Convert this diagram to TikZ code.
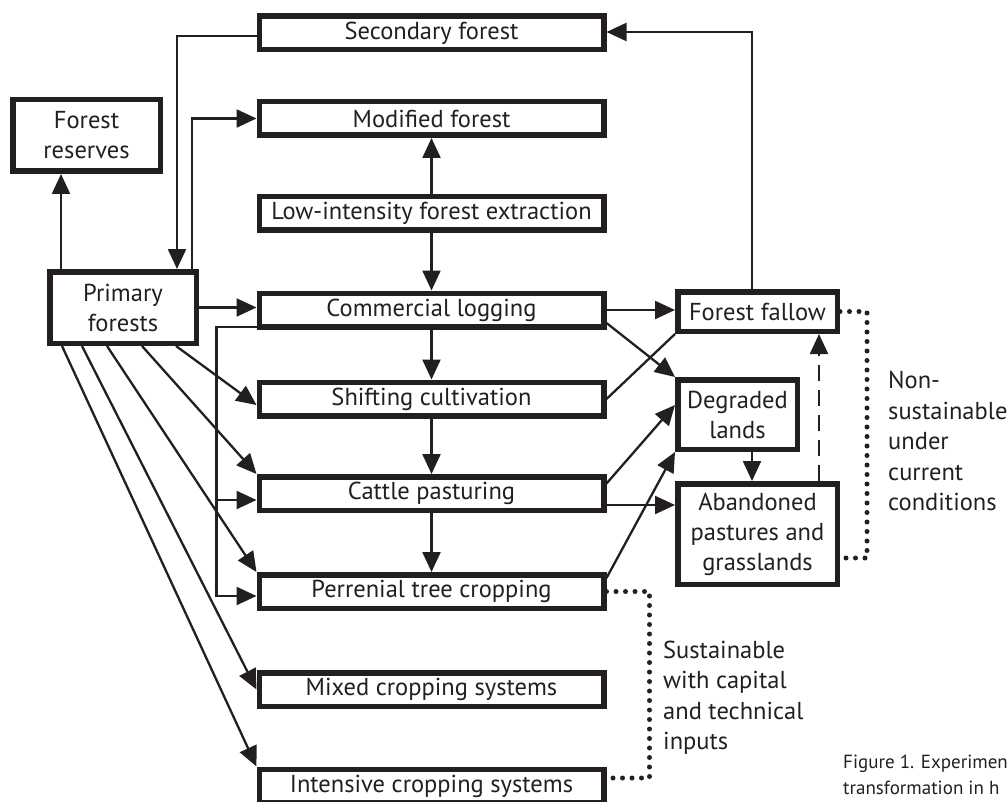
\documentclass[tikz,border=0pt]{standalone}
\usepackage{fontspec}
\setmainfont{PT Sans}
\usetikzlibrary{arrows.meta}
\definecolor{ink}{HTML}{231F20}
\begin{document}
\begin{tikzpicture}[x=1pt,y=-1pt,
  box/.style={draw=ink, line width=5.5pt, inner sep=0pt, align=center,
    font=\fontsize{24.5}{30}\selectfont, text=ink, fill=white},
  cbox/.style={box, minimum width=344.5pt, minimum height=33.5pt},
  link/.style={draw=ink, line width=2.3pt},
  arr/.style={link, -{Triangle[length=20pt,width=18pt]}},
  dotline/.style={draw=ink, line width=5pt, line cap=round, dash pattern=on 0pt off 9.5pt},
  note/.style={align=left, anchor=west, inner sep=0pt,
    font=\fontsize{24.5}{30.5}\selectfont, text=ink},
  caption/.style={align=left, anchor=west, inner sep=0pt,
    font=\fontsize{19}{26}\selectfont, text=ink}]
\useasboundingbox (0,0) rectangle (1008,802);

% central column of land uses
\node[cbox] (SF) at (431.5,33)    {Secondary forest};
\node[cbox] (MF) at (431.5,118.5) {Modified forest};
\node[cbox] (LI) at (431.5,213.5) {Low-intensity forest extraction};
\node[cbox] (CL) at (431.5,310)   {Commercial logging};
\node[cbox] (SC) at (431.5,399)   {Shifting cultivation};
\node[cbox] (CP) at (431.5,493.5) {Cattle pasturing};
\node[cbox] (PT) at (431.5,591.5) {Perrenial tree cropping};
\node[cbox] (MC) at (431.5,689.5) {Mixed cropping systems};
\node[cbox] (IC) at (431.5,786)   {Intensive cropping systems};

% left column
\node[box, minimum width=147.5pt, minimum height=71.5pt] (FR) at (86.5,135.5) {Forest\\reserves};
\node[box, minimum width=146.5pt, minimum height=71.5pt] (PF) at (123,307.5) {Primary\\forests};

% right column
\node[box, minimum width=159.5pt, minimum height=39.5pt]  (FF) at (757.5,311.5) {Forest fallow};
\node[box, minimum width=119.5pt, minimum height=69.5pt]  (DL) at (737.5,414.5) {Degraded\\lands};
\node[box, minimum width=159.5pt, minimum height=100.5pt] (AP) at (757.5,534)   {Abandoned\\pastures and\\grasslands};

% primary forests: links upward
\draw[arr] ([xshift=14pt]PF.north west) -- ([xshift=51pt]FR.south west);
\draw[arr] ([yshift=-3pt]SF.west) -| ([xshift=130pt]PF.north west);
\draw[arr] ([xshift=145pt]PF.north west) |- (MF.west);
\draw[arr] (PF.east) -- (PF.east -| CL.west);

% primary forests: fan of links downward
\draw[arr] ([xshift=129pt]PF.south west) -- ([yshift=-6pt]SC.west);
\draw[arr] ([xshift=95pt]PF.south west)  -- (CP.north west);
\draw[arr] ([xshift=60pt]PF.south west)  -- (PT.north west);
\draw[arr] ([xshift=35pt]PF.south west)  -- (MC.west);
\draw[arr] ([xshift=15pt]PF.south west)  -- (IC.north west);

% central column chain
\draw[arr] (LI.north) -- (MF.south);
\draw[arr] (LI.south) -- (CL.north);
\draw[arr] (CL.south) -- (SC.north);
\draw[arr] (SC.south) -- (CP.north);
\draw[arr] (CP.south) -- (PT.north);

% logging feeder on the left
\draw[arr] ([yshift=-17pt]CL.west) -| ([xshift=-40pt,yshift=-4.5pt]PT.west) -- ([yshift=-4.5pt]PT.west);
\draw[arr] ([xshift=-40pt,yshift=-6.5pt]CP.west) -- ([yshift=-6.5pt]CP.west);

% links to the right column
\draw[arr] (CL.east) -- (CL.east -| FF.west);
\draw[arr] ([yshift=-13pt]CL.east) -- (DL.north west);
\draw[link] (SC.east) -- (FF.south west);
\draw[arr] ([yshift=10pt]CP.east) -- ([yshift=9.5pt]DL.west);
\draw[arr] ([yshift=-11.5pt]CP.east) -- ([yshift=29pt]AP.west);
\draw[arr] ([yshift=13.5pt]PT.east) -- (DL.south west);
\draw[arr] ([xshift=77pt]DL.south west) -- ([xshift=77pt]AP.north west);
\draw[arr, dash pattern=on 16pt off 9pt] ([xshift=144pt]AP.north west) -- ([xshift=144pt]FF.south west);
\draw[arr] ([xshift=77pt]FF.north west) |- ([yshift=1pt]SF.east);

% dotted brackets and their notes
\draw[dotline] (FF.east) -| ([xshift=27pt,yshift=-24pt]AP.east) -- ([yshift=-24pt]AP.east);
\draw[dotline] (PT.east) -| ([xshift=43pt,yshift=8pt]IC.east) -- ([yshift=8pt]IC.east);

\node[note] (ns) at (888,441) {Non-\\sustainable\\under\\current\\conditions};
\node[note] (su) at (663,697.5) {Sustainable\\with capital\\and technical\\inputs};

\node[caption] (cap) at (843,775) {Figure 1. Experimen\\transformation in h};
\end{tikzpicture}
\end{document}
